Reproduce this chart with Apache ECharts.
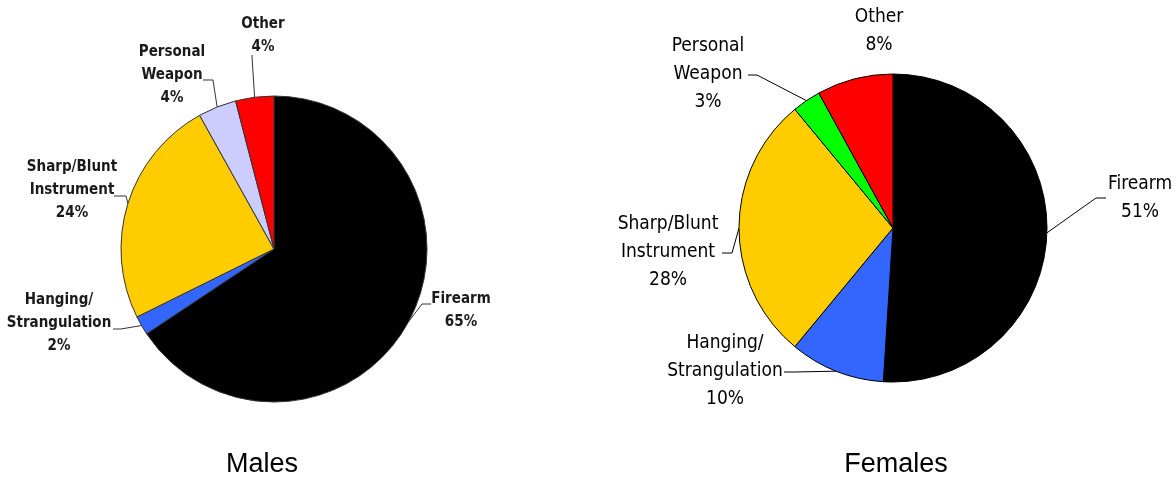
<!DOCTYPE html>
<html>
<head>
<meta charset="utf-8">
<script src="https://cdn.jsdelivr.net/npm/echarts@6/dist/echarts.min.js"></script>
<style>
  html, body { margin: 0; padding: 0; background: #fff; }
  #chart { width: 1176px; height: 478px; }
</style>
</head>
<body>
<div id="chart"></div>
<script>
// categories, in drawing order (clockwise from 12 o'clock)
const categories = ['Firearm', 'Hanging/\nStrangulation', 'Sharp/Blunt\nInstrument', 'Personal\nWeapon', 'Other'];
const malesValues = [65, 2, 24, 4, 4];
const femalesValues = [51, 10, 28, 3, 8];
const titles = ['Males', 'Females'];

const malesColors = ['#000000', '#3366ff', '#ffcc00', '#ccccff', '#ff0000'];
const femalesColors = ['#000000', '#3366ff', '#ffcc00', '#00ff00', '#ff0000'];

// label placement: [centerX, centerY, attachDx, attachDy, dirX, dirY, len]
const malesLabelPos = [
  [461, 311, -30, -7, -1, 0, 9],
  [59, 323, 54, 6, 1, 0, 8],
  [72, 190, 42, 6, 1, 0, 12],
  [172, 75, 31, 5, 1, 0, 10],
  [263, 36, -11, 19, 0, 1, 2]
];
const femalesLabelPos = [
  [1140, 198, -34, 0, -1, 0, 10],
  [725, 371, 59, 1, 1, 0, 10],
  [668, 252, 54, 1, 1, 0, 10],
  [708, 74, 40, 1, 1, 0, 9],
  [879, 31, 0, 0, 0, 0, 0]
];

function layoutFor(pos) {
  return function (params) {
    const p = pos[params.dataIndex];
    const res = { x: p[0], y: p[1], align: 'center', verticalAlign: 'middle' };
    const pts = params.labelLinePoints;
    if (pts && pts.length) {
      const end = [p[0] + p[2], p[1] + p[3]];
      const bend = [end[0] + p[4] * p[6], end[1] + p[5] * p[6]];
      res.labelLinePoints = [pts[0], bend, end];
    }
    return res;
  };
}

function makeData(values, colors, noLine) {
  return values.map(function (v, i) {
    const item = { name: categories[i], value: v, itemStyle: { color: colors[i] } };
    if (noLine && noLine.indexOf(i) >= 0) item.labelLine = { show: false };
    return item;
  });
}

const titleStyle = { fontFamily: 'Liberation Sans, Arial, sans-serif', fontSize: 27, fontWeight: 'normal', color: '#000' };

const chart = echarts.init(document.getElementById('chart'));
chart.setOption({
  animation: false,
  backgroundColor: '#ffffff',
  title: [
    { text: titles[0], left: 262, top: 451, padding: 0, textAlign: 'center', textStyle: titleStyle },
    { text: titles[1], left: 896, top: 451, padding: 0, textAlign: 'center', textStyle: titleStyle }
  ],
  series: [
    {
      type: 'pie',
      center: [274, 249],
      radius: 153,
      startAngle: 90,
      clockwise: true,
      avoidLabelOverlap: false,
      silent: true,
      itemStyle: { borderColor: '#333', borderWidth: 1 },
      label: {
        position: 'outside',
        formatter: '{b}\n{c}%',
        fontFamily: '"DejaVu Sans Condensed", "Arial Narrow", sans-serif',
        fontWeight: 'bold',
        fontSize: 15,
        lineHeight: 23,
        color: '#1a1a1a'
      },
      labelLine: { show: true, lineStyle: { color: '#333', width: 1 } },
      labelLayout: layoutFor(malesLabelPos),
      data: makeData(malesValues, malesColors)
    },
    {
      type: 'pie',
      center: [893, 228],
      radius: 154,
      startAngle: 90,
      clockwise: true,
      avoidLabelOverlap: false,
      silent: true,
      itemStyle: { borderColor: '#000', borderWidth: 1 },
      label: {
        position: 'outside',
        formatter: '{b}\n{c}%',
        fontFamily: '"DejaVu Sans Condensed", "Arial Narrow", sans-serif',
        fontSize: 19,
        lineHeight: 28,
        color: '#000'
      },
      labelLine: { show: true, lineStyle: { color: '#000', width: 1 } },
      labelLayout: layoutFor(femalesLabelPos),
      data: makeData(femalesValues, femalesColors, [4])
    }
  ]
});
</script>
</body>
</html>
